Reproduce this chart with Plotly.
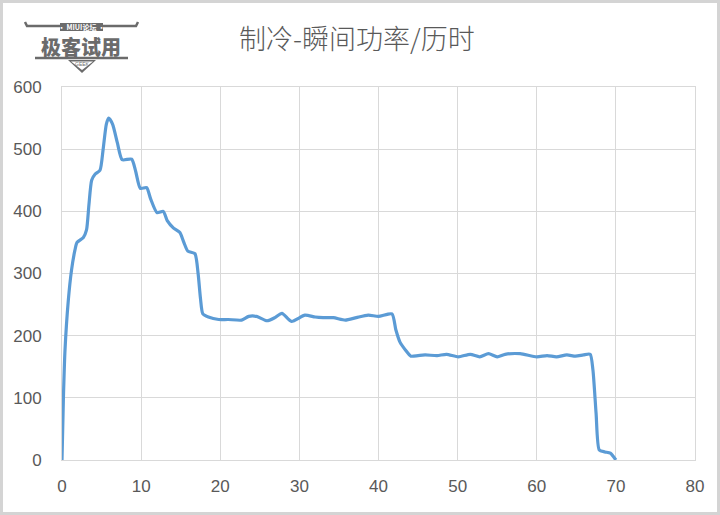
import plotly.graph_objects as go

# Data (time in minutes, power in W)
time_min = [0, 0.17, 0.38, 0.8, 1.2, 1.64, 1.9, 2.7, 3.1, 3.4, 3.75, 4.2, 4.8, 5.2, 5.6, 5.9,
            6.4, 7.0, 7.6, 8.8, 9.3, 9.9, 10.7, 11.2, 12.0, 12.8, 13.3, 14.1, 14.9, 15.4,
            15.9, 16.8, 17.2, 17.5, 17.8, 18.5, 19.8, 21.0, 22.7, 23.6, 24.6, 25.9, 26.9,
            27.8, 29.0, 30.7, 32.0, 33.0, 34.3, 35.8, 37.2, 38.7, 40.0, 41.7, 42.2, 42.7,
            43.4, 44.1, 45.0, 45.9, 47.4, 48.6, 50.1, 51.6, 52.8, 53.9, 55.0, 56.0, 57.9,
            60.0, 61.3, 62.5, 63.8, 64.9, 65.9, 66.75, 67.1, 67.5, 67.9, 68.6, 69.3, 70.0]
power_w = [0, 96, 177, 257, 305, 338, 350, 358, 370, 410, 450, 460, 466, 500, 540, 550,
           540, 510, 483, 484, 465, 437, 438, 420, 398, 400, 385, 373, 366, 350,
           336, 332, 300, 260, 235, 230, 226, 226, 225, 231, 231, 224, 229,
           236, 223, 233, 230, 229, 229, 225, 229, 233, 231, 235, 209, 190,
           177, 167, 168, 169, 168, 170, 166, 170, 166, 171, 166, 170, 171,
           166, 168, 166, 169, 167, 169, 170, 145, 75, 16, 13, 11, 0]

title_text = "制冷-瞬间功率/历时"
x_ticks = [0, 10, 20, 30, 40, 50, 60, 70, 80]
y_ticks = [0, 100, 200, 300, 400, 500, 600]

W, H = 720, 515
L, R, T, B = 62, 25, 87, 55
PW, PH = W - L - R, H - T - B


def px(xp):
    return (xp - L) / PW


def py(yp):
    return (H - B - yp) / PH


fig = go.Figure()
fig.add_trace(go.Scatter(
    x=time_min, y=power_w, mode="lines",
    line=dict(color="#5B9BD5", width=3.2, shape="spline", smoothing=0.6),
    hoverinfo="x+y", showlegend=False,
))

grid = "#d9d9d9"
tick_font = dict(family="Liberation Sans, Arial, sans-serif", size=17, color="#595959")

fig.update_xaxes(range=[0, 80], tickvals=x_ticks, showgrid=True, gridcolor=grid, gridwidth=1,
                 zeroline=False, showline=True, linecolor=grid, linewidth=1, mirror=True,
                 ticks="", tickfont=tick_font, ticklabelstandoff=11, fixedrange=True)
fig.update_yaxes(range=[0, 600], tickvals=y_ticks, showgrid=True, gridcolor=grid, gridwidth=1,
                 zeroline=False, showline=True, linecolor=grid, linewidth=1, mirror=True,
                 ticks="", tickfont=tick_font, ticklabelstandoff=16, fixedrange=True)

logo_col = "#6b6b6b"
shapes = []
# outer frame
shapes.append(dict(type="rect", xref="paper", yref="paper",
                   x0=px(1.5), x1=px(W - 1.5), y0=py(H - 1.5), y1=py(1.5),
                   line=dict(color="#d4d4d4", width=3), layer="below"))
# logo top bar with upturned ends
shapes.append(dict(type="path", xref="paper", yref="paper",
                   path=f"M {px(25)},{py(22)} L {px(27)},{py(26)} L {px(136)},{py(26)} L {px(138)},{py(22)}",
                   line=dict(color=logo_col, width=2.5)))
# small label box
shapes.append(dict(type="rect", xref="paper", yref="paper",
                   x0=px(60), x1=px(103), y0=py(31), y1=py(23),
                   fillcolor=logo_col, line=dict(width=0)))
# lower bar
shapes.append(dict(type="line", xref="paper", yref="paper",
                   x0=px(35), x1=px(128), y0=py(58), y1=py(58),
                   line=dict(color=logo_col, width=2.5)))
# triangle
shapes.append(dict(type="path", xref="paper", yref="paper",
                   path=f"M {px(68)},{py(60)} L {px(96)},{py(60)} L {px(82)},{py(73)} Z",
                   fillcolor=logo_col, line=dict(width=0)))
shapes.append(dict(type="path", xref="paper", yref="paper",
                   path=f"M {px(71)},{py(61.5)} L {px(93)},{py(61.5)} L {px(82)},{py(70)} Z",
                   fillcolor="white", line=dict(width=0)))

annotations = [
    dict(text=title_text, xref="paper", yref="paper", x=px(357), y=py(38),
         xanchor="center", yanchor="middle", showarrow=False,
         font=dict(family="Noto Sans CJK SC, sans-serif", size=27, color="#595959", weight=300)),
    dict(text="• MIUI论坛 •", xref="paper", yref="paper", x=px(81.5), y=py(26.8),
         xanchor="center", yanchor="middle", showarrow=False, borderpad=0,
         font=dict(family="Noto Sans CJK SC, sans-serif", size=7, color="white", weight="bold")),
    dict(text="极客试用", xref="paper", yref="paper", x=px(81), y=py(46.5),
         xanchor="center", yanchor="middle", showarrow=False, borderpad=0,
         font=dict(family="Noto Sans CJK SC, sans-serif", size=20, color=logo_col, weight=900)),
    dict(text="GEEK", xref="paper", yref="paper", x=px(82), y=py(64),
         xanchor="center", yanchor="middle", showarrow=False, borderpad=0,
         font=dict(family="Liberation Sans, sans-serif", size=5, color=logo_col)),
]

fig.update_layout(
    width=W, height=H,
    margin=dict(l=L, r=R, t=T, b=B),
    paper_bgcolor="white", plot_bgcolor="white",
    shapes=shapes, annotations=annotations,
)

fig.write_html("out.html", config={"displayModeBar": False},
               post_script="document.body.style.margin='0';document.body.style.overflow='hidden';")
